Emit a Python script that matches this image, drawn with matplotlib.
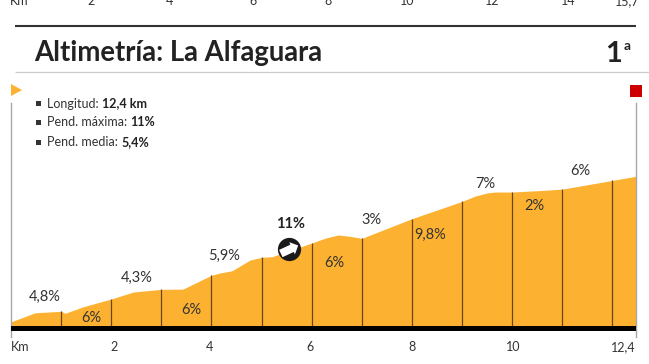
import matplotlib
matplotlib.use('Agg')
import matplotlib.pyplot as plt
from matplotlib.markers import MarkerStyle
from matplotlib.path import Path
from matplotlib.transforms import Affine2D
import numpy as np

W, H = 649, 364

# perfil: km y metros sobre la base
km = [0, 0.48, 1.0, 1.08, 1.44, 2.0, 2.44, 3.0, 3.43, 4.0, 4.17, 4.41, 4.77, 5.0, 5.21,
      6.0, 6.27, 6.53, 6.73, 7.0, 8.0, 9.0, 9.26, 9.5, 9.66, 10.0, 10.5, 11.0, 12.0, 12.46]
elev = [19, 59, 66, 57, 86, 121, 152, 164, 165, 227, 237, 247, 295, 307, 310,
        371, 393, 407, 402, 392, 480, 557, 581, 595, 599, 599, 605, 612, 651, 669]
km_marks = [1, 2, 3, 4, 5, 6, 7, 8, 9, 10, 11, 12]

slope_labels = ['4,8%', '6%', '4,3%', '6%', '5,9%', '6%', '3%', '9,8%', '7%', '2%', '6%']
slope_km = [0.68, 1.6, 2.5, 3.59, 4.25, 6.45, 7.2, 8.36, 9.46, 10.44, 11.36]
slope_elev = [130, 36, 215, 72, 313, 282, 474, 407, 635, 536, 693]

max_label = '11%'
max_km = 5.55
max_elev = 344

tick_km = [2.05, 3.97, 5.97, 8.0, 10.03, 12.46]
tick_labels = ['2', '4', '6', '8', '10', '12,4']

prev_ticks = ['Km', '2', '4', '6', '8', '10', '12', '14', '15,7']
prev_x = [19, 91, 169, 253, 328, 407, 492, 568, 627]

info_labels = ['Longitud: ', 'Pend. máxima: ', 'Pend. media: ']
info_values = ['12,4 km', '11%', '5,4%']
info_y = [103, 122, 142]

ORANGE = '#fdb131'
DARK = '#222222'
GREY = '#a8a8a8'

plt.rcParams['font.family'] = ['Lato', 'DejaVu Sans']

fig = plt.figure(figsize=(W / 100, H / 100), dpi=100)


def fx(x):
    return x / W


def fy(y):
    return 1 - y / H


# capa de fondo en pixeles para la cabecera
bg = fig.add_axes([0, 0, 1, 1])
bg.set_xlim(0, W)
bg.set_ylim(H, 0)
bg.axis('off')
bg.plot([15, 636], [25.5, 25.5], color='#333333', lw=1.5, solid_capstyle='butt')
bg.plot([15, 649], [72, 72], color='#cccccc', lw=0.9, solid_capstyle='butt')
bg.fill([11, 22, 11], [84, 90, 96], color=ORANGE, lw=0)
bg.fill([630, 642, 642, 630], [85, 85, 97, 97], color='#cc0000', lw=0)

for label, x in zip(prev_ticks, prev_x):
    bg.text(x, 5, label, ha='center', va='baseline', fontsize=9, color='#333333')

bg.text(34, 61, 'Altimetría: La Alfaguara', fontsize=19.8, fontweight='bold',
        color=DARK, ha='left', va='baseline')
bg.text(622, 62, '1', fontsize=21, fontweight='bold', color=DARK, ha='right', va='baseline')
bg.text(624, 50, 'a', fontsize=10, fontweight='bold', color=DARK, ha='left', va='baseline')

renderer = fig.canvas.get_renderer()
for label, value, y in zip(info_labels, info_values, info_y):
    bg.fill([36, 41, 41, 36], [y - 2, y - 2, y + 3, y + 3], color='#333333', lw=0)
    t = bg.text(47, y + 4.5, label, fontsize=9, color='#333333', ha='left', va='baseline')
    end = t.get_window_extent(renderer).x1
    bg.text(end, y + 4.5, value, fontsize=9, fontweight='bold', color=DARK,
            ha='left', va='baseline')

# grafico principal
ax = fig.add_axes([fx(11), fy(337), fx(635.5) - fx(11), fy(103) - fy(337)])
ax.patch.set_alpha(0)
ax.set_xlim(0, 12.46)
ax.set_ylim(-49, 997)

ax.fill_between(km, elev, 0, color=ORANGE, lw=0, zorder=2)
ax.vlines(km_marks, 0, np.interp(km_marks, km, elev), color='#6b4615', lw=0.9, zorder=3)
ax.axhspan(-22, 0, color='black', lw=0, zorder=4)

for label, x, y in zip(slope_labels, slope_km, slope_elev):
    ax.text(x, y, label, ha='center', va='center', fontsize=10.5, color='#333333', zorder=5)

# flecha blanca dentro del circulo
arrow = Path([(-1, -0.42), (0.3, -0.42), (0.3, -0.7), (1, 0), (0.3, 0.7), (0.3, 0.42), (-1, 0.42), (-1, -0.42)],
             closed=True)
arrow_marker = MarkerStyle(arrow, transform=Affine2D().rotate_deg(25))
ax.scatter([max_km], [max_elev], s=280, color='#1a1a1a', zorder=6, lw=0)
ax.scatter([max_km], [max_elev], s=190, marker=arrow_marker, color='white', zorder=7, lw=0)
ax.text(5.57, 456, max_label, ha='center', va='center', fontsize=10.5, fontweight='bold',
        color=DARK, zorder=5)

for side in ['top', 'bottom']:
    ax.spines[side].set_visible(False)
for side in ['left', 'right']:
    ax.spines[side].set_color(GREY)
    ax.spines[side].set_linewidth(1.0)

ax.set_yticks([])
ax.set_xticks(tick_km)
ax.set_xticklabels(tick_labels, fontsize=9, color='#333333')
ax.get_xticklabels()[-1].set_ha('right')
ax.tick_params(axis='x', length=0, pad=3)
bg.text(11, 351, 'Km', fontsize=9, color='#333333', ha='left', va='baseline')

fig.savefig('out.png', dpi=100)
